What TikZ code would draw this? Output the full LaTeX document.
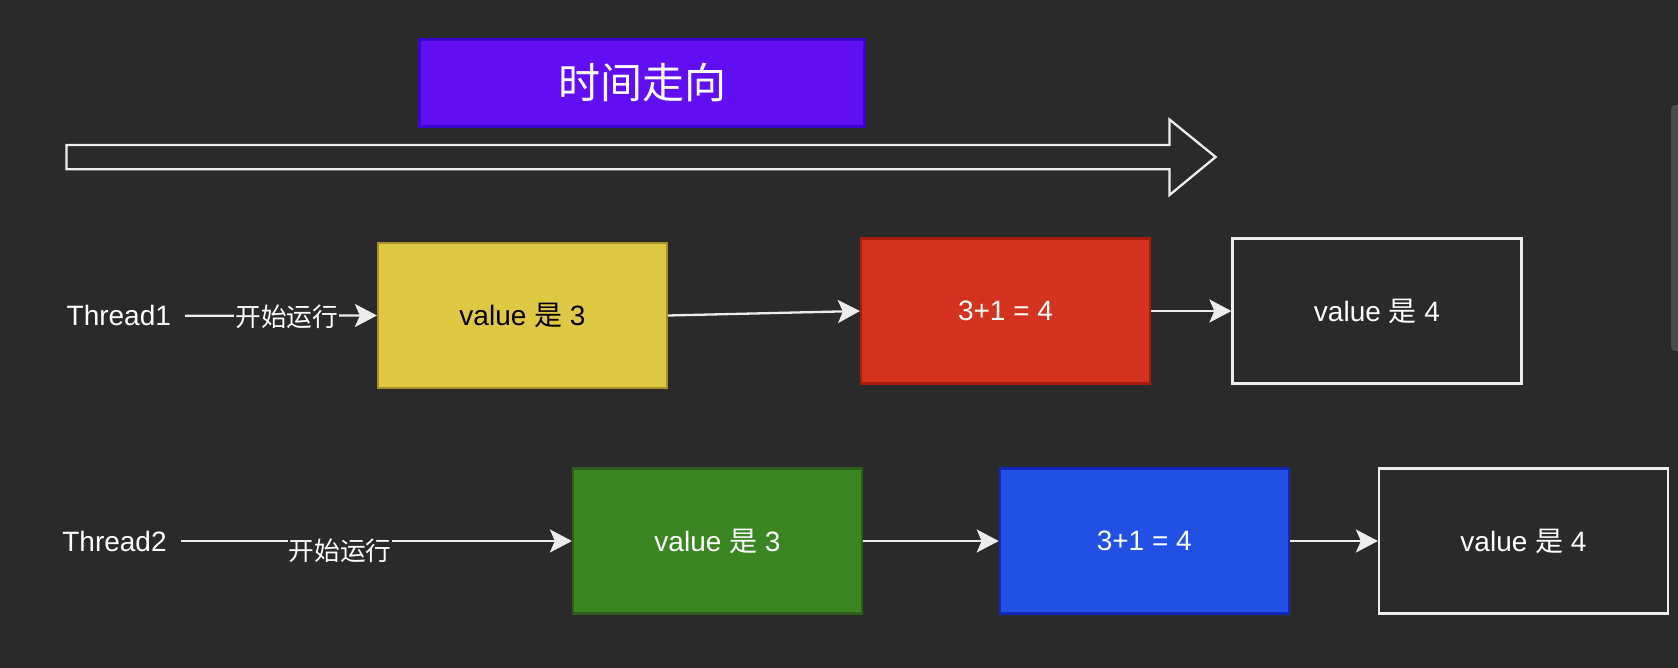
\documentclass[tikz,border=0pt]{standalone}
\usepackage{fontspec}
\setmainfont{Liberation Sans}
\newfontfamily\cjk{Noto Sans CJK SC}
\usetikzlibrary{arrows.meta}
\definecolor{bg}{HTML}{2A2A2A}
\definecolor{fg}{HTML}{EDEDED}
\definecolor{purpfill}{HTML}{620EF2}
\definecolor{purpline}{HTML}{3A06CC}
\definecolor{yelfill}{HTML}{DFC844}
\definecolor{yelline}{HTML}{A88F2A}
\definecolor{redfill}{HTML}{D3321E}
\definecolor{redline}{HTML}{A61C0E}
\definecolor{grnfill}{HTML}{3C8523}
\definecolor{grnline}{HTML}{2A5E1A}
\definecolor{blufill}{HTML}{2250E4}
\definecolor{bluline}{HTML}{1228B8}
\definecolor{barcol}{HTML}{4A4A4A}
\tikzset{
  stepbox/.style={rectangle, minimum width=289pt, minimum height=145pt, inner sep=0pt,
    line width=2.2pt, font=\fontsize{28}{32}\selectfont, text=white},
  threadlbl/.style={inner sep=0pt, font=\fontsize{28}{32}\selectfont, text=white},
  edgelbl/.style={inner sep=1pt, fill=bg, font=\cjk\fontsize{25.7}{30}\selectfont, text=white},
  conn/.style={draw=fg, line width=2.3pt, -{Stealth[length=22pt,width=23pt,inset=5pt]}},
}
\begin{document}
\begin{tikzpicture}[x=1pt,y=-1pt]
\fill[bg] (0,0) rectangle (1678,668);
\useasboundingbox (0,0) rectangle (1678,668);
% scrollbar artifact
\fill[barcol, rounded corners=4pt] (1684,105) rectangle (1671,351);
% title
\node[rectangle, minimum width=445pt, minimum height=87pt, inner sep=0pt, fill=purpfill, draw=purpline, line width=2.3pt,
  font=\cjk\fontsize{42}{48}\selectfont, text=white] (title) at (642,83) {时间走向};
% big hollow arrow
\draw[fg, line width=2.3pt, line join=miter] (66.4,145) -- (1169.5,145) -- (1169.5,119.5) -- (1215.6,157) -- (1169.5,195) -- (1169.5,169.3) -- (66.4,169.3) -- cycle;
% row 1
\node[threadlbl] (t1) at (118.8,315.7) {Thread1};
\node[stepbox, fill=yelfill, draw=yelline, text=black] (y1) at (522.5,315.5) {value {\cjk 是} 3};
\node[stepbox, fill=redfill, draw=redline] (r1) at (1005.5,311) {3+1 = 4};
\node[stepbox, draw=fg] (w1) at (1377,311) {value {\cjk 是} 4};
\draw[conn] ([xshift=14pt]t1.east) -- (y1.west);
\node[edgelbl] (l1) at (286.8,317) {开始运行};
\draw[conn] (y1.east) -- (r1.west);
\draw[conn] (r1.east) -- (w1.west);
% row 2
\node[threadlbl] (t2) at (114.5,541) {Thread2};
\node[stepbox, fill=grnfill, draw=grnline] (g2) at (717.5,541) {value {\cjk 是} 3};
\node[stepbox, fill=blufill, draw=bluline] (b2) at (1144.3,541) {3+1 = 4};
\node[stepbox, draw=fg] (w2) at (1523.5,541) {value {\cjk 是} 4};
\draw[conn] ([xshift=14pt]t2.east) -- (g2.west);
\node[edgelbl] (l2) at (340,551) {开始运行};
\draw[conn] (g2.east) -- (b2.west);
\draw[conn] (b2.east) -- (w2.west);
\end{tikzpicture}
\end{document}
